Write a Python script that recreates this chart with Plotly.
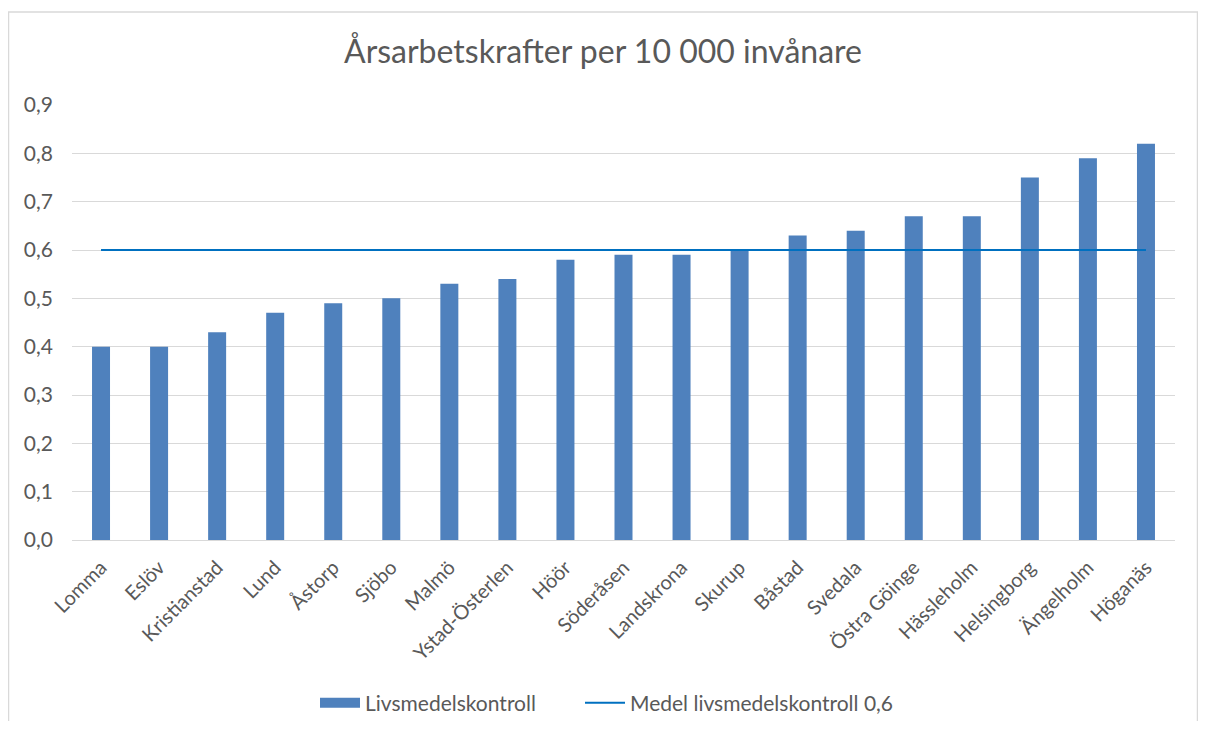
import plotly.graph_objects as go

categories = ["Lomma", "Eslöv", "Kristianstad", "Lund", "Åstorp", "Sjöbo", "Malmö",
              "Ystad-Österlen", "Höör", "Söderåsen", "Landskrona", "Skurup", "Båstad",
              "Svedala", "Östra Göinge", "Hässleholm", "Helsingborg", "Ängelholm", "Höganäs"]
values = [0.40, 0.40, 0.43, 0.47, 0.49, 0.50, 0.53, 0.54, 0.58, 0.59, 0.59, 0.60,
          0.63, 0.64, 0.67, 0.67, 0.75, 0.79, 0.82]
mean_value = 0.6
mean_line = [mean_value] * len(categories)
y_ticks = [0.0, 0.1, 0.2, 0.3, 0.4, 0.5, 0.6, 0.7, 0.8, 0.9]

font_family = "Lato, 'Open Sans', sans-serif"
text_color = "#595959"
bar_color = "#4f81bd"

W, H = 1190, 713
ML, MR, MT, MB = 64, 23, 97, 181
PW, PH = W - ML - MR, H - MT - MB
legend_y = (MT + PH - 695) / PH

fig = go.Figure()
fig.add_trace(go.Bar(x=categories, y=values, name="Livsmedelskontroll",
                     legendgroup="bars", showlegend=False,
                     marker=dict(color=bar_color, line=dict(width=0))))
# legend entry drawn as a wide block like the original legend key
fig.add_trace(go.Scatter(x=[None], y=[None], mode="lines", name="Livsmedelskontroll",
                         legendgroup="bars", showlegend=True, legend="legend",
                         line=dict(color=bar_color, width=12)))
fig.add_trace(go.Scatter(x=categories, y=mean_line, mode="lines",
                         name="Medel livsmedelskontroll 0,6", legend="legend2",
                         line=dict(color="#0070c0", width=2)))

legend_common = dict(orientation="h", xanchor="left", y=legend_y, yanchor="middle",
                     font=dict(size=21, color=text_color), itemwidth=40,
                     bgcolor="rgba(0,0,0,0)")

fig.update_layout(
    width=W, height=H,
    paper_bgcolor="white", plot_bgcolor="white",
    separators=", ",
    margin=dict(l=ML, r=MR, t=MT, b=MB, autoexpand=False),
    font=dict(family=font_family, color=text_color, size=20),
    title=dict(text="Årsarbetskrafter per 10 000 invånare", x=0.5, xanchor="center",
               y=1 - 44 / H, yanchor="middle",
               font=dict(size=32, color=text_color, family=font_family)),
    bargap=0.69,
    showlegend=True,
    legend=dict(x=(307 - ML) / PW, **legend_common),
    legend2=dict(x=(572 - ML) / PW, **legend_common),
    xaxis=dict(tickangle=-45, showgrid=False, showline=False, ticks="",
               ticklabelstandoff=11,
               tickfont=dict(size=20, color=text_color)),
    yaxis=dict(range=[0, 0.9], tickvals=y_ticks, tickformat=".1f",
               showgrid=True, gridcolor="#d9d9d9", gridwidth=1,
               zeroline=True, zerolinecolor="#d9d9d9", zerolinewidth=1,
               showline=False, ticks="", ticklabelstandoff=18,
               tickfont=dict(size=21, color=text_color)),
    shapes=[dict(type="rect", xref="paper", yref="paper",
                 x0=(0.5 - ML) / PW, x1=(W - 0.5 - ML) / PW,
                 y0=-0.6, y1=(MT + PH - 4) / PH,
                 line=dict(color="#d9d9d9", width=1.5), fillcolor="rgba(0,0,0,0)",
                 layer="below")],
)

fig.write_html("out.html")
